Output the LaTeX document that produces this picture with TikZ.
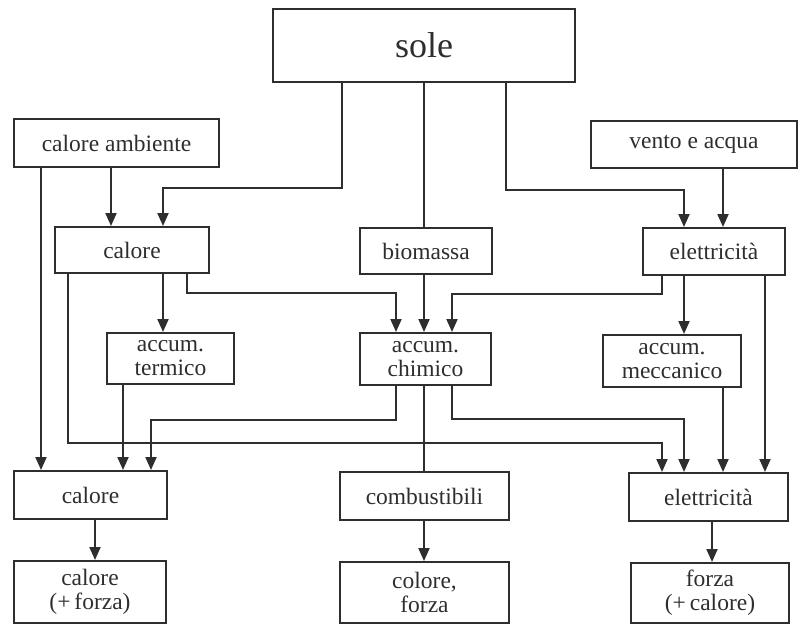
\documentclass[tikz,border=0pt]{standalone}
\usepackage{fontspec}
\setmainfont{Liberation Serif}
\usetikzlibrary{arrows.meta}
\definecolor{ink}{HTML}{2E2E2E}
\tikzstyle{box} = [rectangle, draw=ink, line width=2pt, text=ink, inner sep=0pt, align=center, font=\fontsize{23.5}{24}\selectfont]
\tikzstyle{link} = [draw=ink, line width=2pt]
\tikzstyle{arrow} = [link, -{Triangle[length=13pt,width=11pt]}]

\begin{document}
\begin{tikzpicture}[x=1pt, y=-1pt]
		\useasboundingbox (0,0) rectangle (798,626);
		% sorgenti
		\node (sole) [box, minimum width=302pt, minimum height=73pt, font=\fontsize{36}{36}\selectfont] at (424,45.5) {sole};
		\node (ambiente) [box, minimum width=205pt, minimum height=48pt] at (116.5,143) {calore ambiente};
		\node (vento) [box, minimum width=206pt, minimum height=47pt] at (694,144.5) {vento e acqua};
		% forme primarie
		\node (calore) [box, minimum width=154pt, minimum height=46pt] at (132,250) {calore};
		\node (biomassa) [box, minimum width=132pt, minimum height=46pt] at (426,251) {biomassa};
		\node (elettr) [box, minimum width=142pt, minimum height=47pt] at (714,251.5) {elettricità};
		% accumuli
		\node (termico) [box, minimum width=127pt, minimum height=51pt] at (170.5,358.5) {accum.\\termico};
		\node (chimico) [box, minimum width=131pt, minimum height=52pt] at (425.5,359) {accum.\\chimico};
		\node (meccanico) [box, minimum width=138pt, minimum height=52pt] at (672,361) {accum.\\meccanico};
		% forme finali
		\node (calfin) [box, minimum width=153pt, minimum height=48pt] at (90.5,495) {calore};
		\node (combust) [box, minimum width=169pt, minimum height=48pt] at (424.5,496) {combustibili};
		\node (eletfin) [box, minimum width=159pt, minimum height=48pt] at (708.5,497) {elettricità};
		% usi
		\node (usocal) [box, minimum width=152pt, minimum height=62pt] at (90,592) {calore\\(+\,forza)};
		\node (usocomb) [box, minimum width=169pt, minimum height=61pt] at (424.5,592.5) {colore,\\forza};
		\node (usoel) [box, minimum width=158pt, minimum height=60pt] at (710,593) {forza\\(+\,calore)};

		\draw [arrow] (sole.south -| 342,0) |- (163,188) -- (calore.north -| 163,0);
		\draw [link] (sole.south -| 424,0) -- (biomassa.north -| 424,0);
		\draw [arrow] (sole.south -| 506,0) |- (684,190) -- (elettr.north -| 684,0);
		\draw [arrow] (ambiente.south -| 111,0) -- (calore.north -| 111,0);
		\draw [arrow] (ambiente.south -| 41,0) -- (calfin.north -| 41,0);
		\draw [arrow] (vento.south -| 723,0) -- (elettr.north -| 723,0);

		\draw [arrow] (calore.south -| 163,0) -- (termico.north -| 163,0);
		\draw [arrow] (calore.south -| 187,0) |- (396,293) -- (chimico.north -| 396,0);
		\draw [arrow] (calore.south -| 68,0) |- (662,443) -- (eletfin.north -| 662,0);
		\draw [arrow] (biomassa.south -| 424,0) -- (chimico.north -| 424,0);
		\draw [arrow] (elettr.south -| 662,0) |- (452,294) -- (chimico.north -| 452,0);
		\draw [arrow] (elettr.south -| 684,0) -- (meccanico.north -| 684,0);
		\draw [arrow] (elettr.south -| 765,0) -- (eletfin.north -| 765,0);

		\draw [arrow] (termico.south -| 123,0) -- (calfin.north -| 123,0);
		\draw [arrow] (chimico.south -| 396,0) |- (151,420) -- (calfin.north -| 151,0);
		\draw [link] (chimico.south -| 424,0) -- (combust.north -| 424,0);
		\draw [arrow] (chimico.south -| 452,0) |- (684,419) -- (eletfin.north -| 684,0);
		\draw [arrow] (meccanico.south -| 723,0) -- (eletfin.north -| 723,0);

		\draw [arrow] (calfin.south -| 95,0) -- (usocal.north -| 95,0);
		\draw [arrow] (combust.south -| 424,0) -- (usocomb.north -| 424,0);
		\draw [arrow] (eletfin.south -| 712,0) -- (usoel.north -| 712,0);
	\end{tikzpicture}
\end{document}
